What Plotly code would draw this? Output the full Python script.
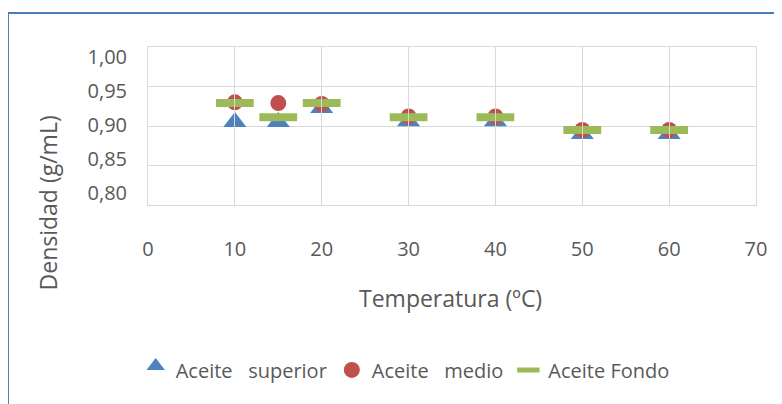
import plotly.graph_objects as go

temps = [10, 15, 20, 30, 40, 50, 60]
superior = [0.910, 0.910, 0.928, 0.911, 0.911, 0.895, 0.895]
medio = [0.930, 0.929, 0.928, 0.912, 0.912, 0.895, 0.895]
fondo = [0.929, 0.911, 0.929, 0.911, 0.911, 0.895, 0.895]

names = ["Aceite\u00a0\u00a0\u00a0superior", "Aceite\u00a0\u00a0\u00a0medio", "Aceite Fondo"]
x_ticks = [0, 10, 20, 30, 40, 50, 60, 70]
y_ticks = [0.80, 0.85, 0.90, 0.95, 1.00]

FONT = "Open Sans"
TXT = "#595959"
GRID = "#D9D9D9"

fig = go.Figure()
fig.add_trace(go.Scatter(x=temps, y=superior, mode="markers", name=names[0],
                         marker=dict(symbol="triangle-up", angle=0, standoff=4,
                                     size=20, color="#4F81BD")))
fig.add_trace(go.Scatter(x=temps, y=medio, mode="markers", name=names[1],
                         marker=dict(symbol="circle", size=16, color="#C0504D")))
fig.add_trace(go.Scatter(x=temps, y=fondo, mode="markers", name=names[2],
                         marker=dict(symbol="line-ew", size=27, color="#9BBB59",
                                     line=dict(width=8, color="#9BBB59"))))
# carrier for the (offset) value-axis labels
fig.add_trace(go.Scatter(x=[None], y=[None], yaxis="y2", mode="markers",
                         showlegend=False, hoverinfo="skip"))

fig.update_layout(
    width=774, height=396,
    margin=dict(l=140, r=26, t=39, b=199, autoexpand=False),
    paper_bgcolor="white", plot_bgcolor="rgba(0,0,0,0)",
    separators=", ",
    font=dict(family=FONT, size=20, color=TXT),
    showlegend=True,
    legend=dict(orientation="h", x=0.423, xanchor="center", y=-1.044, yanchor="middle",
                font=dict(family=FONT, size=20, color=TXT), itemwidth=30,
                tracegroupgap=0),
    xaxis=dict(range=[0, 70], tickvals=x_ticks, showgrid=True, gridcolor=GRID,
               zeroline=False, showline=True, linecolor=GRID, mirror=True,
               ticks="", ticklabelstandoff=26, tickfont=dict(size=20, color=TXT)),
    yaxis=dict(range=[0.80, 1.00], tickvals=y_ticks, showgrid=True,
               gridcolor=GRID, zeroline=False, showline=True, linecolor=GRID,
               mirror=True, ticks="", showticklabels=False),
    yaxis2=dict(range=[0.80, 1.00], tickvals=y_ticks, tickformat=".2f",
                anchor="free", position=0, domain=[0.076, 0.937],
                showgrid=False, zeroline=False, showline=False, ticks="",
                ticklabelstandoff=21, tickfont=dict(size=20, color=TXT)),
    annotations=[
        dict(text="Densidad (g/mL)", xref="paper", yref="paper", x=-0.1645, y=0.016,
             textangle=-90, showarrow=False, xanchor="center", yanchor="middle",
             font=dict(family=FONT, size=23, color=TXT)),
        dict(text="Temperatura (ºC)", xref="paper", yref="paper", x=0.4975, y=-0.589,
             showarrow=False, xanchor="center", yanchor="middle",
             font=dict(family=FONT, size=23, color=TXT)),
    ],
    shapes=[
        dict(type="line", xref="paper", yref="paper", x0=-0.2303, x1=-0.2303,
             y0=1.215, y1=-1.4, line=dict(color="#4A7EBB", width=2)),
        dict(type="line", xref="paper", yref="paper", x0=-0.2303, x1=1.1,
             y0=1.215, y1=1.215, line=dict(color="#4A7EBB", width=2)),
    ],
)

fig.write_html("out.html")
